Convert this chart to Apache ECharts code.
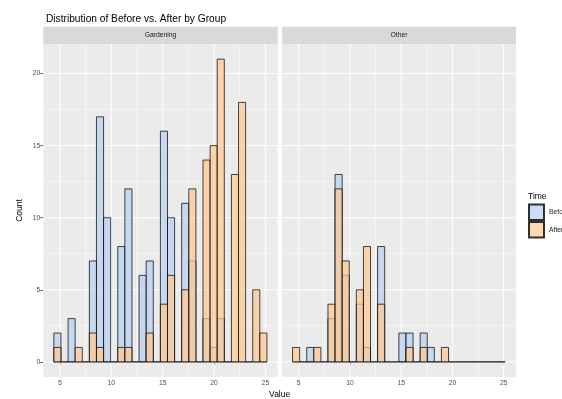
<!DOCTYPE html>
<html><head><meta charset="utf-8">
<script src="https://cdn.jsdelivr.net/npm/echarts@6/dist/echarts.min.js"></script>
<style>html,body{margin:0;padding:0;background:#fff}#c{width:562px;height:399px}</style>
</head><body><div id="c"></div>
<script>
// ---- data ----
const facets = ['Gardening', 'Other'];
const timeLevels = ['Before', 'After'];
const binStart = 4.40;     // left edge of first histogram bin
const binWidth = 0.6917;   // histogram bin width (30 bins)
const gardeningBefore = [2,0,3,0,0,7,17,10,0,8,12,0,6,7,0,16,10,0,11,7,0,3,1,3,0,0,0,0,0,0];
const gardeningAfter  = [1,0,0,1,0,2,1,0,0,1,1,0,0,2,0,4,6,0,5,12,0,14,15,21,0,13,18,0,5,2];
const otherBefore     = [0,0,1,0,0,3,13,6,0,4,1,0,8,0,0,2,2,0,2,1,0,0,0,0,0,0,0,0,0,0];
const otherAfter      = [1,0,0,1,0,4,12,7,0,5,8,0,4,0,0,0,1,0,1,0,0,1,0,0,0,0,0,0,0,0];
const xTicks = [5, 10, 15, 20, 25];
const xMinor = [7.5, 12.5, 17.5, 22.5];
const yTicks = [0, 5, 10, 15, 20];
const yMinor = [2.5, 7.5, 12.5, 17.5];

// ---- styling ----
const FONT = 'Liberation Sans, Arial, sans-serif';
const fills = { Before: 'rgba(181,208,242,0.7)', After: 'rgba(255,199,142,0.7)' };
const stroke = 'rgba(0,0,0,0.8)';
const xMin = 3.373, xMax = 26.2, yMin = -1.05, yMax = 22.05;
const grids = [
  { left: 43.3, top: 44, width: 234.4, height: 333 },
  { left: 282, top: 44, width: 234, height: 333 }
];
const facetData = [
  { Before: gardeningBefore, After: gardeningAfter },
  { Before: otherBefore, After: otherAfter }
];

function toBins(counts) {
  return counts.map((c, i) => [binStart + i * binWidth, binStart + (i + 1) * binWidth, c]);
}

function barRender(params, api) {
  const p0 = api.coord([api.value(0), 0]);
  const p1 = api.coord([api.value(1), api.value(2)]);
  const name = params.seriesName;
  if (api.value(2) === 0) {
    return { type: 'line', shape: { x1: p0[0], y1: p0[1], x2: p1[0], y2: p0[1] },
      style: { stroke: stroke, lineWidth: 0.9 } };
  }
  return { type: 'rect',
    shape: { x: p0[0], y: p1[1], width: p1[0] - p0[0], height: p0[1] - p1[1] },
    style: { fill: fills[name], stroke: stroke, lineWidth: 0.9 } };
}

function gridLineSeries(gi, values, dir, width) {
  return {
    type: 'custom', xAxisIndex: gi, yAxisIndex: gi, silent: true, z: 1,
    data: values.map(v => [v]),
    encode: dir === 'v' ? { x: 0 } : { y: 0 },
    renderItem: function (params, api) {
      const cs = params.coordSys;
      if (dir === 'v') {
        const x = api.coord([api.value(0), 0])[0];
        return { type: 'line', shape: { x1: x, y1: cs.y, x2: x, y2: cs.y + cs.height },
          style: { stroke: '#ffffff', lineWidth: width } };
      } else {
        const y = api.coord([xMin, api.value(0)])[1];
        return { type: 'line', shape: { x1: cs.x, y1: y, x2: cs.x + cs.width, y2: y },
          style: { stroke: '#ffffff', lineWidth: width } };
      }
    }
  };
}

const series = [];
const xAxes = [], yAxes = [];
grids.forEach((g, gi) => {
  xAxes.push({
    type: 'value', gridIndex: gi, min: xMin, max: xMax,
    axisLine: { show: false }, splitLine: { show: false },
    axisTick: { show: true, customValues: xTicks, length: 3, lineStyle: { color: '#333333', width: 0.8 } },
    axisLabel: { customValues: xTicks, fontSize: 6.8, color: '#4d4d4d', margin: 3, fontFamily: FONT }
  });
  yAxes.push({
    type: 'value', gridIndex: gi, min: yMin, max: yMax,
    axisLine: { show: false }, splitLine: { show: false },
    axisTick: { show: gi === 0, customValues: yTicks, length: 3, lineStyle: { color: '#333333', width: 0.8 } },
    axisLabel: { show: gi === 0, customValues: yTicks, fontSize: 6.8, color: '#4d4d4d', margin: 3, fontFamily: FONT },
    name: gi === 0 ? 'Count' : '', nameLocation: 'middle', nameGap: 19, nameRotate: 90,
    nameTextStyle: { fontSize: 8.5, color: '#000', fontFamily: FONT }
  });
  series.push(gridLineSeries(gi, xMinor, 'v', 0.5));
  series.push(gridLineSeries(gi, yMinor, 'h', 0.5));
  series.push(gridLineSeries(gi, xTicks, 'v', 1));
  series.push(gridLineSeries(gi, yTicks, 'h', 1));
  timeLevels.forEach((t, ti) => {
    series.push({
      name: t, type: 'custom', xAxisIndex: gi, yAxisIndex: gi, z: 5 + ti,
      itemStyle: { color: fills[t], borderColor: stroke, borderWidth: 0.8 },
      encode: { x: [0, 1], y: 2 },
      data: toBins(facetData[gi][t]),
      renderItem: barRender
    });
  });
});

const graphics = [];
grids.forEach((g, gi) => {
  graphics.push({ type: 'rect', shape: { x: g.left, y: 26.7, width: g.width, height: 17.3 },
    style: { fill: '#d9d9d9' }, silent: true });
  graphics.push({ type: 'text', x: g.left + g.width / 2, y: 35.4,
    style: { text: facets[gi], fill: '#1a1a1a', fontSize: 6.8, fontFamily: FONT, align: 'center', verticalAlign: 'middle' } });
});
graphics.push({ type: 'text', x: (grids[0].left + grids[1].left + grids[1].width) / 2, y: 395,
  style: { text: 'Value', fill: '#000', fontSize: 8.5, fontFamily: FONT, align: 'center', verticalAlign: 'middle' } });
graphics.push({ type: 'text', x: 528, y: 197,
  style: { text: 'Time', fill: '#000', fontSize: 8.5, fontFamily: FONT, align: 'left', verticalAlign: 'middle' } });

const chart = echarts.init(document.getElementById('c'), null, { renderer: 'canvas' });
chart.setOption({
  animation: false,
  backgroundColor: '#ffffff',
  title: { text: 'Distribution of Before vs. After by Group', left: 41, top: 9,
    textStyle: { fontSize: 10.2, fontWeight: 'normal', color: '#000', fontFamily: FONT } },
  grid: grids.map(g => Object.assign({ show: true, backgroundColor: '#ebebeb', borderWidth: 0 }, g)),
  xAxis: xAxes,
  yAxis: yAxes,
  legend: { data: timeLevels, orient: 'vertical', left: 528, top: 203.5, padding: 0,
    itemWidth: 15, itemHeight: 15.5, itemGap: 0, icon: 'rect', selectedMode: false,
    textStyle: { fontSize: 6.8, color: '#1a1a1a', fontFamily: FONT, width: 40, overflow: 'none', padding: [0, 0, 0, 0] } },
  graphic: graphics,
  series: series
});
</script>
</body></html>
